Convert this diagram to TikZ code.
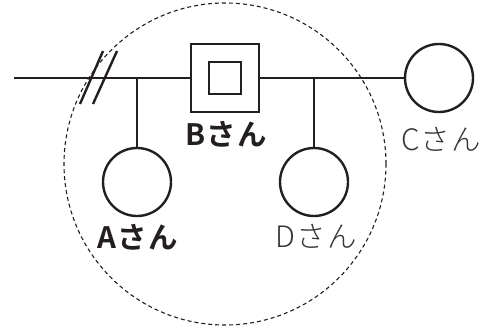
\documentclass[tikz,border=0pt]{standalone}
\usepackage{fontspec}
\newfontfamily\jpbold{Noto Sans CJK JP}[UprightFont={* Bold},LetterSpace=4]
\newfontfamily\jplight{Noto Sans CJK JP}[UprightFont={* Light},LetterSpace=4]
\definecolor{ink}{HTML}{231F20}
\begin{document}
\begin{tikzpicture}[x=1pt,y=-1pt,
  kin/.style={draw=ink,line width=2.4pt},
  female/.style={kin,circle,minimum size=68pt,inner sep=0pt},
  male/.style={kin,rectangle,minimum size=68pt,inner sep=0pt},
  namebold/.style={text=ink,font=\jpbold\fontsize{29.5}{29.5}\selectfont,inner sep=0pt},
  namelight/.style={text=ink!90,font=\jplight\fontsize{29.5}{29.5}\selectfont,inner sep=0pt},
  link/.style={draw=ink,line width=2.4pt},
  group/.style={draw=ink,line width=1.1pt,dash pattern=on 4pt off 3pt}]
  \useasboundingbox (0,0) rectangle (486,326);

  % household boundary
  \node[group,circle,minimum size=322pt,inner sep=0pt] (grp) at (225,164) {};

  % people
  \node[male] (B) at (225,78) {};
  \node[kin,rectangle,minimum size=32pt,inner sep=0pt,line width=2.1pt] (Bin) at (B) {};
  \node[female] (C) at (439,78) {};
  \node[female] (A) at (137,182) {};
  \node[female] (D) at (314,182) {};

  % names
  \node[namebold] (Bn) at (226,134) {Bさん};
  \node[namebold] (An) at (138,237) {Aさん};
  \node[namelight] (Cn) at (441,139) {Cさん};
  \node[namelight] (Dn) at (316,236) {Dさん};

  % marriage lines
  \coordinate (L) at (14,78);
  \coordinate (jA) at (137,78);
  \coordinate (jD) at (314,78);
  \draw[link] (L) -- (B.west);
  \draw[link] (B.east) -- (C.west);
  \draw[link] (jA) -- (A.north);
  \draw[link] (jD) -- (D.north);

  % divorce mark
  \coordinate (s1a) at (80,104);
  \coordinate (s1b) at (103,51);
  \coordinate (s2a) at (93,104);
  \coordinate (s2b) at (117,51);
  \draw[link] (s1a) -- (s1b);
  \draw[link] (s2a) -- (s2b);
\end{tikzpicture}
\end{document}
